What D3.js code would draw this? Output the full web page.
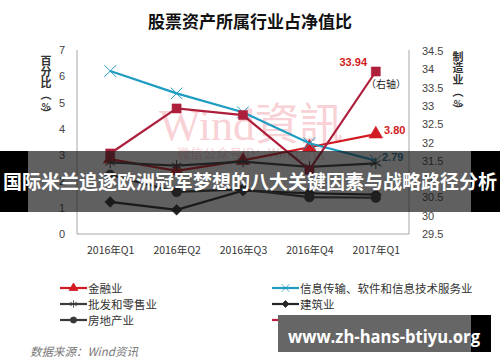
<!DOCTYPE html>
<html>
<head>
<meta charset="utf-8">
<script src="https://cdn.jsdelivr.net/npm/d3@7"></script>
<style>
  body { margin: 0; background: #fff; }
  text { font-family: "Noto Sans CJK SC", "Liberation Sans", sans-serif; }
</style>
</head>
<body>
<div id="my_dataviz"></div>
<script>
// categories and series
var quarters = ["2016年Q1", "2016年Q2", "2016年Q3", "2016年Q4", "2017年Q1"];
var finance = [2.85, 2.4, 2.8, 3.3, 3.80];
var infoTech = [6.2, 5.35, 4.63, 3.45, 2.79];
var wholesale = [2.72, 2.6, 2.75, 2.55, 2.69];
var construction = [1.22, 0.92, 1.65, 1.55, 1.5];
var realEstate = [2.25, 1.6, 1.7, 1.4, 1.38];
var manufacturing = [31.7, 32.93, 32.75, 31.25, 33.94];

var leftTicks = [0, 1, 2, 3, 4, 5, 6, 7];
var rightTicks = [29.5, 30, 30.5, 31, 31.5, 32, 32.5, 33, 33.5, 34, 34.5];

var seriesNames = ["金融业", "信息传输、软件和信息技术服务业", "批发和零售业", "建筑业", "房地产业", "制造业"];

// set the dimensions of the graph
var width = 500, height = 362;
var plot = {left: 77, right: 409, top: 50, bottom: 234};

var svg = d3.select("#my_dataviz")
  .append("svg")
    .attr("width", width)
    .attr("height", height);

// title
svg.append("text")
  .attr("x", 250).attr("y", 28)
  .attr("text-anchor", "middle")
  .style("font-size", "17px").style("font-weight", "bold").style("fill", "#111")
  .text("股票资产所属行业占净值比");

// scales
var x = d3.scalePoint()
  .domain(quarters)
  .range([plot.left, plot.right])
  .padding(0.5);
var y = d3.scaleLinear().domain([0, 7]).range([plot.bottom, plot.top]);
var y2 = d3.scaleLinear().domain([29.5, 34.5]).range([plot.bottom, plot.top + 1]);

// watermark in the plot
svg.append("text")
  .attr("x", 251).attr("y", 140)
  .attr("text-anchor", "middle")
  .style("font-family", "'Liberation Serif', 'Noto Sans CJK TC', serif")
  .style("font-size", "44px").style("fill", "#f8d2d6")
  .text("Wind資訊");
svg.append("text")
  .attr("x", 251).attr("y", 158)
  .attr("text-anchor", "middle")
  .style("font-size", "13px").style("fill", "#f8d2d6")
  .text("微信公众号ID：Wind资讯");

// frame
svg.append("path")
  .attr("d", "M" + plot.left + "," + plot.top + "V" + plot.bottom + "H" + plot.right + "V" + plot.top)
  .attr("fill", "none").attr("stroke", "#a6a6a6").attr("stroke-width", 1);

// left axis
var leftAxis = svg.append("g")
  .attr("transform", "translate(" + plot.left + ",0)")
  .call(d3.axisLeft(y).tickValues(leftTicks).tickSize(0).tickPadding(12)
    .tickFormat(d3.format("d")));
leftAxis.select(".domain").remove();
leftAxis.selectAll("text").style("font-size", "11px").style("fill", "#444")
  .style("font-family", "'Liberation Sans', sans-serif");

// right axis
var rightAxis = svg.append("g")
  .attr("transform", "translate(" + plot.right + ",0)")
  .call(d3.axisRight(y2).tickValues(rightTicks).tickSize(0).tickPadding(13)
    .tickFormat(function(d) { return d3.format("")(d); }));
rightAxis.select(".domain").remove();
rightAxis.selectAll("text").style("font-size", "11px").style("fill", "#444")
  .style("font-family", "'Liberation Sans', sans-serif");

// x axis labels
var xAxis = svg.append("g")
  .attr("transform", "translate(0," + plot.bottom + ")")
  .call(d3.axisBottom(x).tickSize(0).tickPadding(13));
xAxis.select(".domain").remove();
xAxis.selectAll("text").style("font-size", "10.5px").style("fill", "#333");

// vertical axis titles
var leftTitle = ["百", "分", "比", "︵", "%", "︶"];
var leftTitleY = [65, 76, 87, 99, 110, 118];
svg.append("g").selectAll("text")
  .data(leftTitle).enter().append("text")
    .attr("x", 46).attr("y", function(d, i) { return leftTitleY[i]; })
    .attr("text-anchor", "middle")
    .style("font-size", function(d) { return d == "%" ? "9px" : "11px"; })
    .style("font-weight", "bold").style("fill", "#333")
    .text(function(d) { return d; });

var rightTitle = ["制", "造", "业", "︵", "%", "︶"];
var rightTitleY = [61, 72, 84, 96, 107, 114];
svg.append("g").selectAll("text")
  .data(rightTitle).enter().append("text")
    .attr("x", 458).attr("y", function(d, i) { return rightTitleY[i]; })
    .attr("text-anchor", "middle")
    .style("font-size", function(d) { return d == "%" ? "9px" : "11px"; })
    .style("font-weight", "bold").style("fill", "#333")
    .text(function(d) { return d; });

// series definitions
var series = [
  {name: seriesNames[0], values: finance, scale: y, color: "#d11a22", marker: "triangle"},
  {name: seriesNames[1], values: infoTech, scale: y, color: "#1e9cc2", marker: "cross"},
  {name: seriesNames[2], values: wholesale, scale: y, color: "#3c3c3c", marker: "asterisk"},
  {name: seriesNames[3], values: construction, scale: y, color: "#262626", marker: "diamond"},
  {name: seriesNames[4], values: realEstate, scale: y, color: "#383838", marker: "circle"},
  {name: seriesNames[5], values: manufacturing, scale: y2, color: "#ad1f3a", marker: "square"}
];

var symbolFor = function(kind, size) {
  if (kind == "triangle") return d3.symbol().type(d3.symbolTriangle).size(size * 1.1)();
  if (kind == "cross") return d3.symbol().type(d3.symbolTimes).size(size)();
  if (kind == "asterisk") return d3.symbol().type(d3.symbolAsterisk).size(size)();
  if (kind == "diamond") return d3.symbol().type(d3.symbolDiamond2).size(size)();
  if (kind == "circle") return d3.symbol().type(d3.symbolCircle).size(size)();
  return d3.symbol().type(d3.symbolSquare).size(size * 1.1)();
};
var isStroked = function(kind) { return kind == "cross" || kind == "asterisk"; };

series.forEach(function(s) {
  var line = d3.line()
    .x(function(d, i) { return x(quarters[i]); })
    .y(function(d) { return s.scale(d); });

  svg.append("path")
    .datum(s.values)
    .attr("fill", "none")
    .attr("stroke", s.color)
    .attr("stroke-width", 2.2)
    .attr("d", line);

  svg.append("g").selectAll("path")
    .data(s.values).enter().append("path")
      .attr("transform", function(d, i) { return "translate(" + x(quarters[i]) + "," + s.scale(d) + ")"; })
      .attr("d", symbolFor(s.marker, isStroked(s.marker) ? 90 : 75))
      .attr("fill", isStroked(s.marker) ? "none" : s.color)
      .attr("stroke", s.color)
      .attr("stroke-width", isStroked(s.marker) ? 1 : 0.5);
});

// value labels
svg.append("text").attr("x", 367).attr("y", 66).attr("text-anchor", "end")
  .style("font-size", "11px").style("font-weight", "bold").style("fill", "#d11a22")
  .style("font-family", "'Liberation Sans', sans-serif")
  .text(manufacturing[4].toFixed(2));
svg.append("text").attr("x", 386).attr("y", 88).attr("text-anchor", "middle")
  .style("font-size", "10px").style("fill", "#222")
  .text("（右轴）");
svg.append("text").attr("x", 384).attr("y", 134)
  .style("font-size", "11px").style("font-weight", "bold").style("fill", "#d11a22")
  .style("font-family", "'Liberation Sans', sans-serif")
  .text(finance[4].toFixed(2));
svg.append("text").attr("x", 382).attr("y", 161)
  .style("font-size", "11px").style("font-weight", "bold").style("fill", "#1b6b96")
  .style("font-family", "'Liberation Sans', sans-serif")
  .text(infoTech[4].toFixed(2));

// legend
var legendPos = [[60, 288], [272, 288], [60, 304], [272, 304], [60, 320], [272, 320]];
var legend = svg.append("g").selectAll("g")
  .data(series).enter().append("g")
    .attr("transform", function(d, i) { return "translate(" + legendPos[i][0] + "," + legendPos[i][1] + ")"; });
legend.append("line")
  .attr("x1", 0).attr("x2", 27).attr("y1", 0).attr("y2", 0)
  .attr("stroke", function(d) { return d.marker == "square" ? "#c0203f" : d.color; })
  .attr("stroke-width", 2.2);
legend.append("path")
  .attr("transform", "translate(13.5,0)")
  .attr("d", function(d) { return symbolFor(d.marker, isStroked(d.marker) ? 40 : 30); })
  .attr("fill", function(d) { return isStroked(d.marker) ? "none" : (d.marker == "square" ? "#5a0f1a" : d.color); })
  .attr("stroke", function(d) { return d.marker == "square" ? "#5a0f1a" : d.color; })
  .attr("stroke-width", 0.8);
legend.append("text")
  .attr("x", 28).attr("y", 4.5)
  .style("font-size", "11.5px").style("fill", "#333")
  .text(function(d) { return d.name; });

// source
svg.append("text").attr("x", 30).attr("y", 356)
  .style("font-size", "11.5px").style("font-style", "italic").style("fill", "#777")
  .text("数据来源：Wind资讯");

// overlay banner: black ends, translucent dark middle
svg.append("rect").attr("x", 0).attr("y", 151).attr("width", 28).attr("height", 61).attr("fill", "#000");
svg.append("rect").attr("x", 471).attr("y", 151).attr("width", 29).attr("height", 61).attr("fill", "#000");
svg.append("rect").attr("x", 28).attr("y", 151).attr("width", 443).attr("height", 61).attr("fill", "rgba(20,20,20,0.68)");
svg.append("text").attr("x", 250).attr("y", 189).attr("text-anchor", "middle")
  .style("font-size", "19px").style("font-weight", "bold").style("fill", "#fff")
  .text("国际米兰追逐欧洲冠军梦想的八大关键因素与战略路径分析");

// url badge
svg.append("rect").attr("x", 278).attr("y", 315).attr("width", 213).attr("height", 37).attr("fill", "#000");
svg.append("rect").attr("x", 278).attr("y", 315).attr("width", 193).attr("height", 37).attr("fill", "#666");
svg.append("text").attr("x", 288).attr("y", 343)
  .attr("textLength", 192).attr("lengthAdjust", "spacingAndGlyphs")
  .style("font-family", "'Open Sans', 'Noto Sans', sans-serif")
  .style("font-size", "18px").style("font-weight", "bold").style("fill", "#fff")
  .text("www.zh-hans-btiyu.org");
</script>
</body>
</html>
